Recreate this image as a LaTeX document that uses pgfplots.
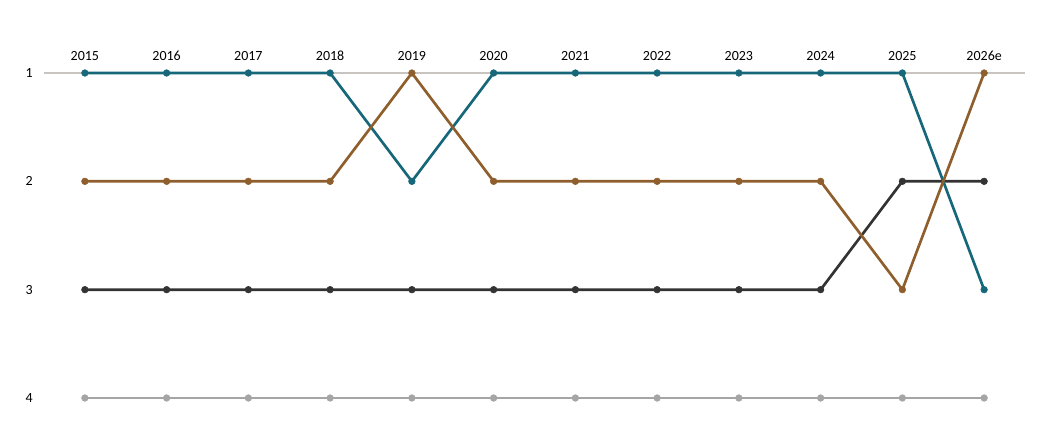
\documentclass[border=0pt]{standalone}
\usepackage{fontspec}
\setmainfont{Carlito}
\usepackage{pgfplots}
\pgfplotsset{compat=1.18}
\definecolor{teal1}{RGB}{23,103,122}
\definecolor{brown1}{RGB}{142,95,44}
\definecolor{dark1}{RGB}{51,51,51}
\definecolor{grey1}{RGB}{165,165,165}
\definecolor{rule1}{RGB}{200,196,192}
\begin{document}
\begin{tikzpicture}
\path[use as bounding box] (0,0) rectangle (795pt,318pt);
\begin{axis}[
  at={(33pt,19.5pt)}, anchor=south west,
  scale only axis,
  width=735.75pt, height=243.75pt,
  xmin=-0.5, xmax=11.5,
  ymin=1, ymax=4,
  y dir=reverse,
  clip=false,
  axis line style={draw=none},
  major tick length=0pt,
  xtick={0,...,11},
  xticklabels={2015,2016,2017,2018,2019,2020,2021,2022,2023,2024,2025,2026e},
  xticklabel pos=upper,
  xticklabel style={yshift=6pt},
  ytick={1,2,3,4},
  yticklabel style={xshift=-5pt},
  tick label style={font=\fontsize{10.5}{12}\selectfont, text=black},
  /pgf/number format/assume math mode=true,
  every axis plot/.append style={line width=2pt, mark=*, mark size=2.5pt, mark options={line width=0.4pt}},
]
\addplot[rule1, line width=1.1pt, mark=none] coordinates {(-0.5,1) (11.5,1)};
\addplot[grey1] coordinates {(0,4) (1,4) (2,4) (3,4) (4,4) (5,4) (6,4) (7,4) (8,4) (9,4) (10,4) (11,4)};
\addplot[dark1] coordinates {(0,3) (1,3) (2,3) (3,3) (4,3) (5,3) (6,3) (7,3) (8,3) (9,3) (10,2) (11,2)};
\addplot[teal1] coordinates {(0,1) (1,1) (2,1) (3,1) (4,2) (5,1) (6,1) (7,1) (8,1) (9,1) (10,1) (11,3)};
\addplot[brown1] coordinates {(0,2) (1,2) (2,2) (3,2) (4,1) (5,2) (6,2) (7,2) (8,2) (9,2) (10,3) (11,1)};
\end{axis}
\end{tikzpicture}
\end{document}
